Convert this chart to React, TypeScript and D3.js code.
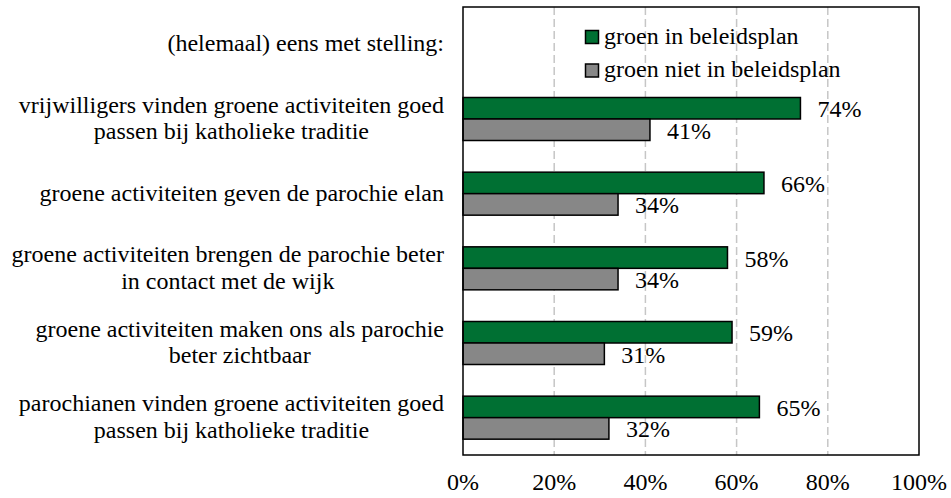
import * as d3 from "d3";
import { useRef, useEffect } from "react";

const categories = [
  ["(helemaal) eens met stelling:"],
  ["vrijwilligers vinden groene activiteiten goed", "passen bij katholieke traditie"],
  ["groene activiteiten geven de parochie elan"],
  ["groene activiteiten brengen de parochie beter", "in contact met de wijk"],
  ["groene activiteiten maken ons als parochie", "beter zichtbaar"],
  ["parochianen vinden groene activiteiten goed", "passen bij katholieke traditie"],
];
const inPlan = [null, 74, 66, 58, 59, 65];
const notInPlan = [null, 41, 34, 34, 31, 32];
const seriesNames = ["groen in beleidsplan", "groen niet in beleidsplan"];
const colors = ["#007033", "#878787"];
const ticks = [0, 20, 40, 60, 80, 100];

const width = 951;
const height = 498;
const marginLeft = 463;
const marginRight = 32;
const marginTop = 7;
const marginBottom = 43;
const font = "'Liberation Serif', 'Times New Roman', serif";
const fontSize = 24;

export default function App() {
  const ref = useRef<SVGSVGElement>(null);

  useEffect(() => {
    const svg = d3.select(ref.current);
    svg.selectAll("*").remove();

    const x = d3.scaleLinear([0, 100], [marginLeft, width - marginRight]);
    const y = d3
      .scaleBand<number>()
      .domain(d3.range(categories.length))
      .range([marginTop, height - marginBottom]);
    const bh = 21.5;

    // dashed grid
    svg
      .append("g")
      .selectAll("line")
      .data(ticks.filter((t) => t > 0 && t < 100))
      .join("line")
      .attr("x1", (d) => x(d))
      .attr("x2", (d) => x(d))
      .attr("y1", marginTop)
      .attr("y2", height - marginBottom)
      .attr("stroke", "#c6c6c6")
      .attr("stroke-width", 1.5)
      .attr("stroke-dasharray", "8,4");

    const rows = d3.range(categories.length).filter((i) => inPlan[i] != null);
    const cy = (i: number) => y(i)! + y.bandwidth() / 2;

    [inPlan, notInPlan].forEach((vals, s) => {
      svg
        .append("g")
        .selectAll("rect")
        .data(rows)
        .join("rect")
        .attr("x", x(0))
        .attr("y", (i) => cy(i) - bh + s * bh)
        .attr("width", (i) => x(vals[i] as number) - x(0))
        .attr("height", bh)
        .attr("fill", colors[s])
        .attr("stroke", "#000")
        .attr("stroke-width", 1.5);
      svg
        .append("g")
        .selectAll("text")
        .data(rows)
        .join("text")
        .attr("x", (i) => x(vals[i] as number) + 17)
        .attr("y", (i) => cy(i) - bh / 2 + s * bh + 9)
        .attr("font-family", font)
        .attr("font-size", fontSize)
        .attr("fill", "#000")
        .text((i) => `${vals[i]}%`);
    });

    // frame
    svg
      .append("rect")
      .attr("x", marginLeft)
      .attr("y", marginTop)
      .attr("width", width - marginRight - marginLeft)
      .attr("height", height - marginBottom - marginTop)
      .attr("fill", "none")
      .attr("stroke", "#000")
      .attr("stroke-width", 1.5);

    // x tick labels
    svg
      .append("g")
      .selectAll("text")
      .data(ticks)
      .join("text")
      .attr("x", (d) => x(d))
      .attr("y", 490)
      .attr("text-anchor", "middle")
      .attr("font-family", font)
      .attr("font-size", fontSize)
      .text((d) => `${d}%`);

    // category labels: block right-aligned, lines centred within it
    const lineH = 26.5;
    const labelRight = 444;
    categories.forEach((lines, i) => {
      const g = svg.append("g");
      const texts = lines.map((t, k) =>
        g
          .append("text")
          .attr("y", cy(i) + 7 + (k - (lines.length - 1) / 2) * lineH)
          .attr("font-family", font)
          .attr("font-size", fontSize)
          .attr("text-anchor", "middle")
          .text(t)
      );
      const maxW = d3.max(texts, (t) => (t.node() as SVGTextElement).getComputedTextLength()) || 0;
      texts.forEach((t) => t.attr("x", labelRight - maxW / 2));
    });

    // legend
    seriesNames.forEach((name, s) => {
      const base = 43.5 + s * 33.5;
      svg
        .append("rect")
        .attr("x", 585.5)
        .attr("y", base - 13)
        .attr("width", 13)
        .attr("height", 13)
        .attr("fill", colors[s])
        .attr("stroke", "#000")
        .attr("stroke-width", 1.5);
      svg
        .append("text")
        .attr("x", 604)
        .attr("y", base)
        .attr("font-family", font)
        .attr("font-size", fontSize)
        .text(name);
    });
  }, []);

  return (
    <svg
      ref={ref}
      width={width}
      height={height}
      style={{ position: "absolute", left: 0, top: 0, background: "#fff" }}
    />
  );
}
